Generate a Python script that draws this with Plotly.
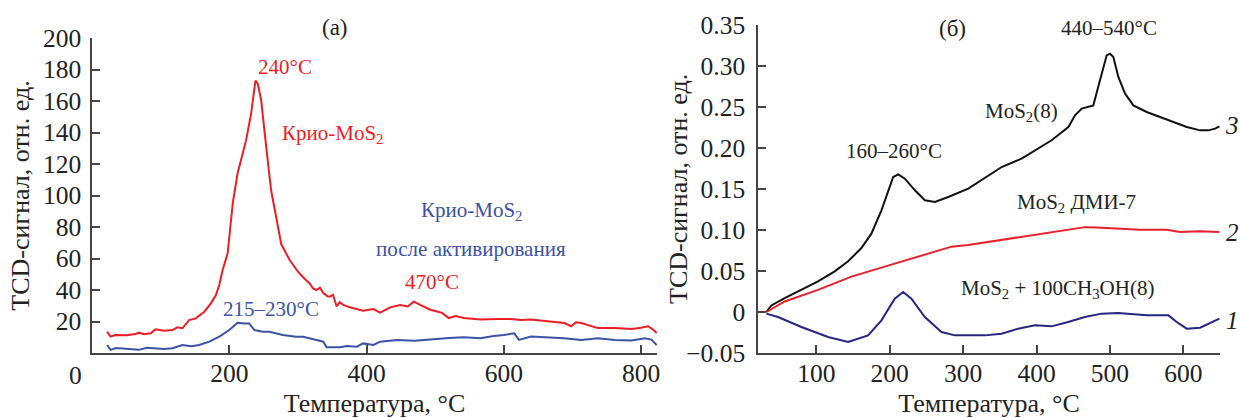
import plotly.graph_objects as go

# ---------- Panel (а) ----------
red_a_x = [22, 27, 34, 50, 63.5, 68.3, 75.7, 85.4, 92.7, 105, 117.1, 124.4, 131.7, 141.5, 151.2, 163.5,
           173.2, 180.5, 185.4, 190.3, 197.6, 205, 212, 224.4, 231.8, 238.1, 241.5, 246.4, 253.7, 261,
           268.4, 275.7, 287.9, 300, 310, 317, 322, 327, 332, 336.9, 343, 346.6, 351, 356.4, 361, 366,
           375.6, 386, 395, 410, 419.6, 434.3, 449, 460, 468.5, 478, 492.8, 502.5, 510, 519.6, 530,
           541.6, 566, 590.4, 610, 625, 639.3, 663.7, 688, 698, 705, 712.6, 737, 761.4, 785.8, 800,
           810, 817.6, 822.5]
red_a_y = [13.5, 10.4, 11.4, 11.2, 12, 12.9, 11.9, 12.5, 15, 14.2, 14.6, 16.3, 15.7, 20.9, 22, 26.2,
           31.5, 36.8, 43.2, 52.7, 63.3, 95, 114, 135, 152, 173, 171, 160.5, 131, 103,
           86, 69, 59, 51.6, 47, 44.2, 41, 40, 41.5, 38, 36, 35.8, 37, 29.5, 32.3, 30.5,
           29, 27.8, 26.9, 27.9, 25.7, 29, 30.5, 29.5, 32.6, 30.5, 27.5, 26.4, 25.5, 22.2, 23.5,
           22.2, 21.2, 21.6, 21.6, 21, 21.2, 20.1, 19, 17, 19.5, 19, 15.8, 15.8, 15.2, 16,
           17, 14.8, 12.7]

blue_a_x = [22, 27, 35, 44, 56, 68.3, 80, 92.7, 105, 117, 131.8, 145, 156, 171, 185.4, 200, 212, 221.9,
            229, 236.6, 248.8, 258.6, 268.4, 278, 297.6, 307.4, 327, 336.9, 341.7, 361.3, 371, 385.8,
            395, 410, 419.6, 444, 470, 492.8, 520, 541.6, 566, 585, 600, 615, 622, 639.3, 663.7, 688,
            712.6, 737, 761.4, 785.8, 805.3, 815, 822.5]
blue_a_y = [5.1, 2, 3.2, 3, 2.4, 2, 3.3, 3, 2.5, 3, 5.1, 4.3, 5.1, 7.2, 10.4, 14.6, 19.2, 18.8,
            18.8, 14.6, 13.5, 13.5, 12.5, 11.4, 10.3, 10.3, 8.3, 7.2, 3.6, 3.6, 4.4, 4,
            6.1, 5.1, 7.2, 8.3, 7.8, 8.7, 9.5, 10, 9.3, 10.8, 11.4, 12.5, 8.3, 10.4, 10, 9.3,
            8.3, 9.3, 8.3, 7.9, 9.3, 8.5, 5.1]

# ---------- Panel (б) ----------
c3_x = [31.9, 38.7, 56.9, 79.6, 102.3, 125, 143.3, 161.4, 175, 188.7, 197.8, 204.7, 211.5, 220.6,
        234.3, 247.9, 261.5, 279.7, 307, 334.3, 352.5, 379.7, 397.9, 420.6, 443.4, 452.5, 461.6,
        477.4, 486.5, 495.6, 500.1, 504.7, 511.5, 520.6, 532, 550.1, 568.3, 586.5, 604.7, 622.9,
        634.2, 643.3, 649.2]
c3_y = [0.0, 0.008, 0.0169, 0.027, 0.0374, 0.0496, 0.0618, 0.078, 0.0955, 0.124, 0.1484, 0.1646,
        0.1679, 0.1626, 0.1484, 0.1362, 0.1341, 0.1402, 0.1504, 0.1667, 0.1768, 0.187, 0.1972,
        0.2094, 0.2256, 0.2398, 0.248, 0.252, 0.2826, 0.313, 0.315, 0.311, 0.2866, 0.2663, 0.252,
        0.2439, 0.2378, 0.2317, 0.2256, 0.2215, 0.2215, 0.2236, 0.2264]

c2_x = [31.9, 56.9, 102.3, 147.7, 193.2, 238.6, 284.1, 306.8, 352.2, 397.7, 443.1, 465.9, 481.9,
        504.7, 541, 577.4, 595.6, 622.9, 649.2]
c2_y = [0.0, 0.0128, 0.027, 0.0431, 0.0553, 0.0675, 0.0797, 0.0817, 0.0878, 0.0939, 0.1005, 0.1035,
        0.1029, 0.1016, 0.1004, 0.1004, 0.0976, 0.0984, 0.0976]

c1_x = [31.9, 47.8, 79.6, 116, 143.3, 170.5, 188.7, 206.8, 218.2, 229.6, 247.8, 270.5, 288.7, 329.6,
        352.3, 375, 397.7, 420.5, 443.1, 465.9, 488.6, 511.4, 550.1, 579.7, 591, 604.7, 622.9, 641,
        649.2]
c1_y = [-0.002, -0.0061, -0.0183, -0.0305, -0.0366, -0.0285, -0.0102, 0.0163, 0.0244, 0.0163,
        -0.0061, -0.0244, -0.0285, -0.0285, -0.0264, -0.0203, -0.0163, -0.0175, -0.0122, -0.0061,
        -0.002, -0.0012, -0.0041, -0.0041, -0.0122, -0.0203, -0.0191, -0.0122, -0.0081]

a_yticks = [20, 40, 60, 80, 100, 120, 140, 160, 180, 200]
a_xticks = [200, 400, 600, 800]
b_yticks = [-0.05, 0, 0.05, 0.10, 0.15, 0.20, 0.25, 0.30, 0.35]
b_yticktext = ["\u22120.05", "0", "0.05", "0.10", "0.15", "0.20", "0.25", "0.30", "0.35"]
b_xticks = [100, 200, 300, 400, 500, 600]

FONT = "Liberation Serif"
RED_A = "#ee1d25"
BLUE_A = "#3a52a8"
TXT = "#222222"

fig = go.Figure()
fig.add_trace(go.Scatter(x=red_a_x, y=red_a_y, mode="lines", line=dict(color=RED_A, width=2),
                         xaxis="x", yaxis="y", showlegend=False))
fig.add_trace(go.Scatter(x=blue_a_x, y=blue_a_y, mode="lines", line=dict(color=BLUE_A, width=2),
                         xaxis="x", yaxis="y", showlegend=False))
fig.add_trace(go.Scatter(x=c3_x, y=c3_y, mode="lines", line=dict(color="#111111", width=2),
                         xaxis="x2", yaxis="y2", showlegend=False))
fig.add_trace(go.Scatter(x=c2_x, y=c2_y, mode="lines", line=dict(color="#e8202a", width=2),
                         xaxis="x2", yaxis="y2", showlegend=False))
fig.add_trace(go.Scatter(x=c1_x, y=c1_y, mode="lines", line=dict(color="#262680", width=2),
                         xaxis="x2", yaxis="y2", showlegend=False))

W, H = 1241, 418
axis_common = dict(showline=True, linecolor="#444444", linewidth=1.5, ticks="inside", ticklen=8,
                   tickcolor="#444444", tickwidth=1.5, showgrid=False, zeroline=False,
                   automargin=False,
                   tickfont=dict(family=FONT, size=25.5, color=TXT),
                   title_font=dict(family=FONT, size=26, color=TXT))

fig.update_layout(
    width=W, height=H, margin=dict(l=0, r=0, t=0, b=0, autoexpand=False),
    paper_bgcolor="white", plot_bgcolor="white",
    xaxis=dict(domain=[92 / W, 657 / W], range=[0, 823], anchor="y", tickvals=a_xticks,
               ticklabelstandoff=-3, title=dict(text="Температура, °С", standoff=7), **axis_common),
    yaxis=dict(domain=[1 - 353 / H, 1 - 38 / H], range=[0, 200], anchor="x", tickvals=a_yticks,
               ticklabelstandoff=4, title=dict(text="TCD-сигнал, отн. ед.", standoff=6), **axis_common),
    xaxis2=dict(domain=[758 / W, 1220 / W], range=[20.5, 650], anchor="y2", tickvals=b_xticks,
                ticklabelstandoff=-3, title=dict(text="Температура, °С", standoff=7), **axis_common),
    yaxis2=dict(domain=[1 - 353 / H, 1 - 25 / H], range=[-0.05, 0.35], anchor="x2",
                tickvals=b_yticks, ticktext=b_yticktext, ticklabelstandoff=6, **axis_common),
)


def ann(text, px, py, color=TXT, size=21, italic=False, angle=0):
    fig.add_annotation(text=text, x=px / W, y=1 - py / H, xref="paper", yref="paper",
                       xanchor="center", yanchor="middle", showarrow=False, textangle=angle,
                       font=dict(family=FONT, size=size, color=color,
                                 style="italic" if italic else "normal"))


ann("TCD-сигнал, отн. ед.", 678, 189, size=26, angle=-90)
ann("0", 75, 375, size=25.5)
ann("(а)", 335, 27, size=23)
ann("240°C", 285, 67, RED_A)
ann("Крио-MoS<sub>2</sub>", 332, 134, RED_A)
ann("Крио-MoS<sub>2</sub>", 471, 211, BLUE_A)
ann("после активирования", 471, 249, BLUE_A)
ann("470°C", 432, 282, RED_A)
ann("215–230°C", 271, 309, BLUE_A)

ann("(б)", 952, 28, size=23)
ann("440–540°C", 1109, 28)
ann("MoS<sub>2</sub>(8)", 1021, 112)
ann("160–260°C", 894, 151)
ann("MoS<sub>2</sub> ДМИ-7", 1076, 203)
ann("MoS<sub>2</sub> + 100CH<sub>3</sub>OH(8)", 1057, 289)
ann("3", 1232, 125, size=25, italic=True)
ann("2", 1232, 232, size=25, italic=True)
ann("1", 1232, 320, size=25, italic=True)

fig.write_html("out.html", config={"displayModeBar": False},
               post_script="document.body.style.margin='0';document.body.style.overflow='hidden';")
